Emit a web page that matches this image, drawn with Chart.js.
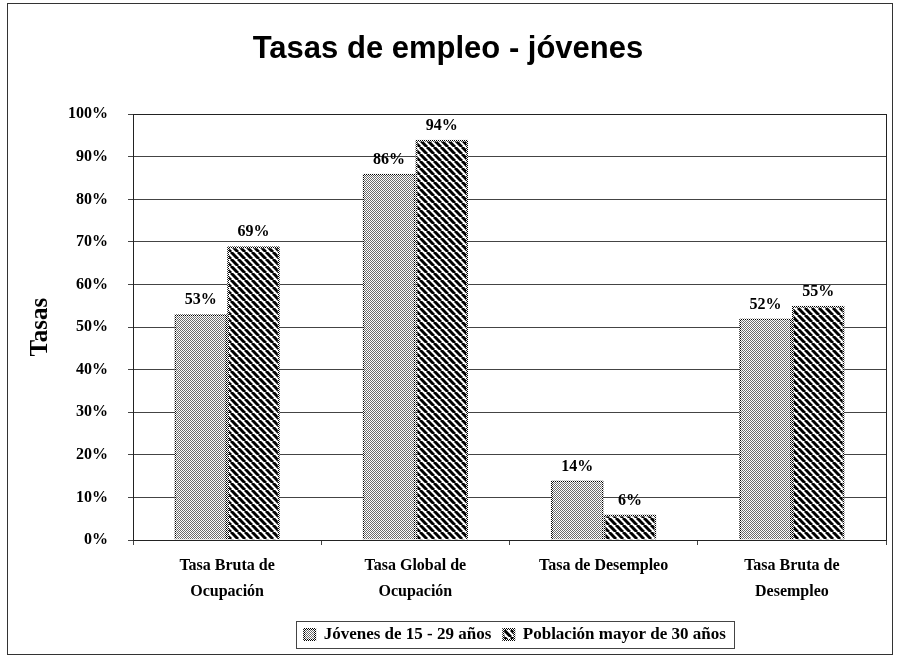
<!DOCTYPE html>
<html>
<head>
<meta charset="utf-8">
<script src="https://cdn.jsdelivr.net/npm/chart.js@4.4.0/dist/chart.umd.min.js"></script>
<style>
  body { margin: 0; background: #fff; }
  #wrap { width: 897px; height: 659px; }
</style>
</head>
<body>
<div id="wrap"><canvas id="myChart" width="897" height="659"></canvas></div>
<script>
const categories = [['Tasa Bruta de', 'Ocupación'], ['Tasa Global de', 'Ocupación'], 'Tasa de Desempleo', ['Tasa Bruta de', 'Desempleo']];
const seriesNames = ['Jóvenes de 15 - 29 años', 'Población mayor de 30 años'];
const jovenes = [53, 86, 14, 52];
const mayores = [69, 94, 6, 55];
const yMin = 0, yMax = 100, yStep = 10;

const canvas = document.getElementById('myChart');
const c2d = canvas.getContext('2d');
const serif = '"Liberation Serif", "Times New Roman", serif';

function makeTile(size, draw) {
    const t = document.createElement('canvas');
    t.width = size; t.height = size;
    const g = t.getContext('2d');
    g.fillStyle = '#fff';
    g.fillRect(0, 0, size, size);
    draw(g, size);
    return c2d.createPattern(t, 'repeat');
}

// stippled grey
const dots = makeTile(2, (g) => {
    g.fillStyle = '#6e6e6e';
    g.fillRect(0, 0, 1, 1);
    g.fillRect(1, 1, 1, 1);
});
// black diagonal stripes
const stripes = makeTile(7, (g, s) => {
    g.strokeStyle = '#000';
    g.lineWidth = 3;
    for (const o of [-s, 0, s]) {
        g.beginPath();
        g.moveTo(o, 0);
        g.lineTo(o + s, s);
        g.stroke();
    }
});
// dotted outline
const dotted = makeTile(2, (g) => {
    g.fillStyle = '#000';
    g.fillRect(0, 0, 1, 1);
    g.fillRect(1, 1, 1, 1);
});

const valueLabels = {
    id: 'valueLabels',
    afterDatasetsDraw(chart) {
        const { ctx } = chart;
        ctx.save();
        ctx.font = 'bold 16px ' + serif;
        ctx.fillStyle = '#000';
        ctx.textAlign = 'center';
        ctx.textBaseline = 'bottom';
        chart.data.datasets.forEach((ds, i) => {
            chart.getDatasetMeta(i).data.forEach((bar, j) => {
                ctx.fillText(ds.data[j] + '%', bar.x, bar.y - 6);
            });
        });
        ctx.restore();
    }
};

const frames = {
    id: 'frames',
    afterLayout(chart) {
        // the legend sits a bit right of centre in the original
        const lg = chart.legend;
        lg.left += 67;
        lg.right += 67;
    },
    afterDraw(chart) {
        const { ctx, chartArea: a } = chart;
        ctx.save();
        ctx.lineWidth = 1;
        ctx.strokeStyle = '#333';
        // outer frame
        ctx.strokeRect(7.5, 3.5, 885, 651);
        // plot area box
        ctx.strokeStyle = '#222';
        ctx.strokeRect(Math.round(a.left) + 0.5, Math.round(a.top) + 0.5, Math.round(a.right - a.left), Math.round(a.bottom - a.top));
        // legend box
        const boxes = chart.legend.legendHitBoxes;
        if (boxes && boxes.length) {
            const l = Math.min(...boxes.map(b => b.left)) - 8;
            const r = Math.max(...boxes.map(b => b.left + b.width)) + 8;
            const t = Math.min(...boxes.map(b => b.top)) - 5;
            const bt = Math.max(...boxes.map(b => b.top + b.height)) + 5;
            ctx.strokeStyle = '#444';
            ctx.strokeRect(Math.round(l) + 0.5, Math.round(t) + 0.5, Math.round(r - l), Math.round(bt - t));
        }
        ctx.restore();
    }
};

new Chart(canvas, {
    type: 'bar',
    data: {
        labels: categories,
        datasets: [{
            label: seriesNames[0],
            data: jovenes,
            backgroundColor: dots,
            borderColor: dotted,
            borderWidth: 2,
            borderSkipped: 'start'
        }, {
            label: seriesNames[1],
            data: mayores,
            backgroundColor: stripes,
            borderColor: dotted,
            borderWidth: 2,
            borderSkipped: 'start'
        }]
    },
    options: {
        responsive: false,
        animation: false,
        categoryPercentage: 0.56,
        barPercentage: 1.0,
        layout: { padding: { left: 10, right: 11, top: 8, bottom: 6 } },
        plugins: {
            title: {
                display: true,
                text: 'Tasas de empleo - jóvenes',
                color: '#000',
                font: { family: '"Liberation Sans", Arial, sans-serif', size: 31, weight: 'bold' },
                padding: { top: 23, bottom: 46 }
            },
            legend: {
                position: 'bottom',
                labels: {
                    color: '#000',
                    font: { family: serif, size: 17, weight: 'bold' },
                    boxWidth: 11,
                    boxHeight: 11,
                    padding: 12
                }
            },
            tooltip: { enabled: false }
        },
        scales: {
            y: {
                min: yMin,
                max: yMax,
                ticks: {
                    stepSize: yStep,
                    callback: (v) => v + '%',
                    color: '#000',
                    font: { family: serif, size: 16, weight: 'bold' },
                    padding: 20
                },
                grid: { color: '#444', tickLength: 5, tickColor: '#444' },
                border: { color: '#222' },
                title: {
                    display: true,
                    text: 'Tasas',
                    color: '#000',
                    font: { family: serif, size: 25, weight: 'bold' },
                    padding: { top: 16, bottom: 0 }
                },
                afterFit: (s) => { s.width = 123; }
            },
            x: {
                ticks: {
                    color: '#000',
                    font: { family: serif, size: 16, weight: 'bold', lineHeight: 1.6 },
                    padding: 8,
                    maxRotation: 0
                },
                grid: { offset: true, drawOnChartArea: false, tickLength: 5, color: '#444' },
                border: { color: '#222' },
                afterFit: (s) => { s.height = 74; }
            }
        }
    },
    plugins: [valueLabels, frames]
});
</script>
</body>
</html>
